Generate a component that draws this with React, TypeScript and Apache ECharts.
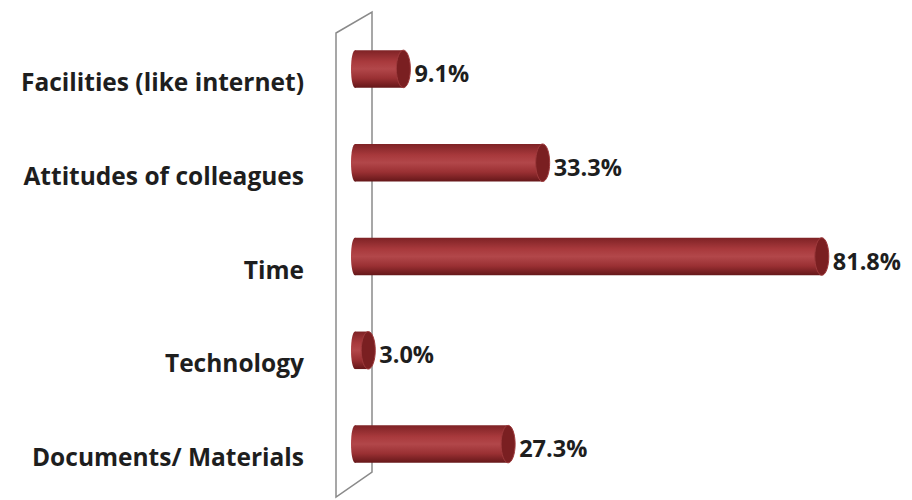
import React, { useEffect, useRef } from "react";
import * as echarts from "echarts";

const categories = [
  "Facilities (like internet)",
  "Attitudes of colleagues",
  "Time",
  "Technology",
  "Documents/ Materials",
];
const values = [9.1, 33.3, 81.8, 3.0, 27.3];

export default function App() {
  const ref = useRef<HTMLDivElement>(null);
  useEffect(() => {
    if (!ref.current) return;
    const chart = echarts.init(ref.current, undefined, { renderer: "svg" });
    const bodyGrad = () =>
      new echarts.graphic.LinearGradient(0, 0, 0, 1, [
        { offset: 0, color: "#7E2225" },
        { offset: 0.3, color: "#A8393C" },
        { offset: 0.5, color: "#B2474A" },
        { offset: 0.75, color: "#9A3033" },
        { offset: 1, color: "#651719" },
      ]);
    chart.setOption({
      animation: false,
      grid: { left: 351, right: 43, top: 22, bottom: 9 },
      xAxis: { type: "value", min: 0, max: 90, show: false },
      yAxis: {
        type: "category",
        inverse: true,
        data: categories,
        axisLine: { show: false },
        axisTick: { show: false },
        splitLine: { show: false },
        axisLabel: {
          margin: 47,
          fontFamily: "Open Sans",
          fontWeight: "bold",
          fontSize: 24.5,
          color: "#1e1e1e",
          verticalAlign: "top",
        },
      },
      graphic: [
        {
          type: "polygon",
          z: 0,
          shape: { points: [[336, 33], [372, 12], [372, 472], [336, 497]] },
          style: { fill: "none", stroke: "#8a8a8a", lineWidth: 1.5 },
        },
      ],
      series: [
        {
          type: "custom",
          z: 5,
          data: values.map((v, i) => [v, i]),
          encode: { x: 0, y: 1 },
          renderItem: (params: any, api: any) => {
            const idx = api.value(1);
            const v = api.value(0);
            const s = api.coord([0, idx]);
            const e = api.coord([v, idx]);
            const h = api.size([0, 1])[1] * 0.4;
            const cy = s[1];
            const lx = s[0] + 4;
            return {
              type: "group",
              children: [
                {
                  type: "ellipse",
                  shape: { cx: lx, cy, rx: 4, ry: h / 2 },
                  style: { fill: bodyGrad() },
                },
                {
                  type: "rect",
                  shape: { x: lx, y: cy - h / 2, width: Math.max(e[0] - lx, 0), height: h },
                  style: { fill: bodyGrad() },
                },
                {
                  type: "ellipse",
                  shape: { cx: e[0], cy, rx: 7, ry: h / 2 },
                  style: { fill: "#7A1F21", stroke: "#9E3A3C", lineWidth: 1 },
                },
                {
                  type: "text",
                  style: {
                    x: e[0] + 11,
                    y: cy + 4,
                    text: v.toFixed(1) + "%",
                    fontFamily: "Open Sans",
                    fontWeight: "bold",
                    fontSize: 23.5,
                    fill: "#1e1e1e",
                    verticalAlign: "middle",
                    align: "left",
                  },
                },
              ],
            };
          },
        },
      ],
    });
    return () => chart.dispose();
  }, []);
  return <div ref={ref} style={{ width: 912, height: 500, position: "absolute", left: 0, top: 0, background: "#fff" }} />;
}
